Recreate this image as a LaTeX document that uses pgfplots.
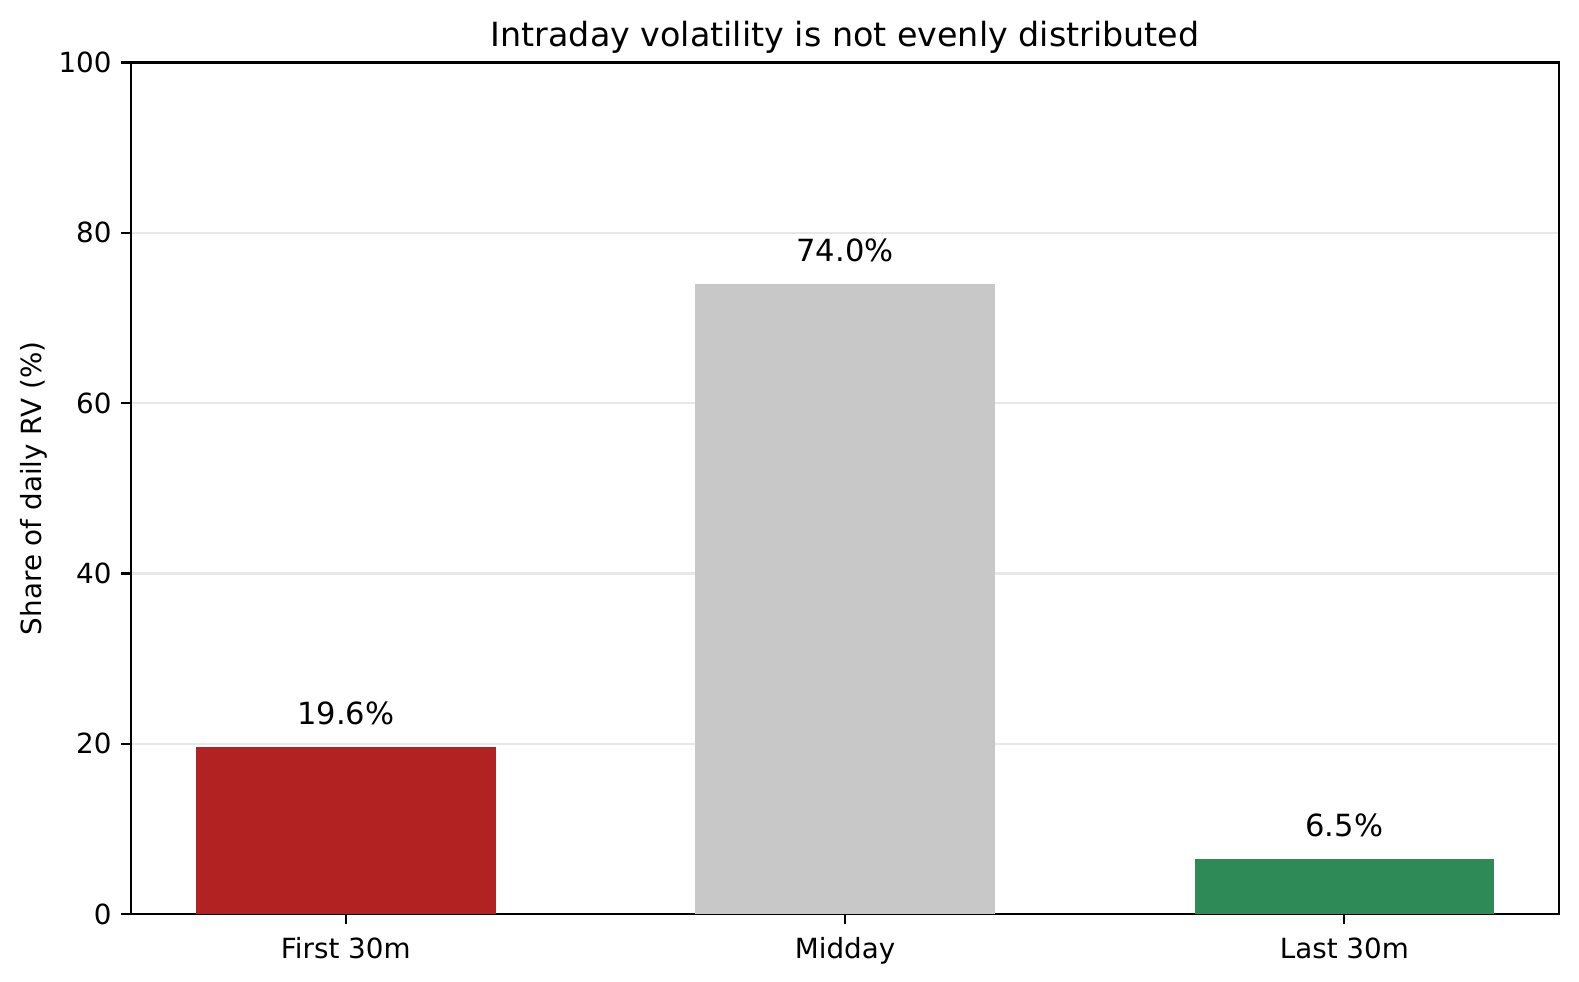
\documentclass[border=0pt]{standalone}
\usepackage{pgfplots}
\pgfplotsset{compat=1.18}
\usepackage{fontspec}
\setmainfont{DejaVu Sans}
\definecolor{barred}{HTML}{B22222}
\definecolor{bargray}{HTML}{C8C8C8}
\definecolor{bargreen}{HTML}{2E8B57}
\definecolor{gridc}{HTML}{E8E8E8}
\begin{document}
\begin{tikzpicture}
\begin{axis}[
  at={(0,0)}, anchor=south west,
  scale only axis,
  width=514.1pt, height=306.6pt,
  xmin=-0.43, xmax=2.43,
  ymin=0, ymax=100,
  xtick={0,1,2},
  xticklabels={First 30m, Midday, Last 30m},
  ytick={0,20,40,60,80,100},
  xtick pos=bottom, ytick pos=left,
  tick align=outside,
  major tick length=3.5pt,
  tick style={black, line width=0.8pt},
  axis line style={line width=0.8pt},
  ymajorgrids,
  grid style={gridc, line width=0.8pt},
  tick label style={font=\fontsize{10}{12}\selectfont},
  /pgf/number format/assume math mode=true,
  xticklabel style={yshift=-1.5pt},
  ylabel={Share of daily RV (\%)},
  every axis y label/.style={at={(axis description cs:0,0.5)}, rotate=90, anchor=center, yshift=35pt, font=\fontsize{10}{12}\selectfont},
  title={Intraday volatility is not evenly distributed},
  every axis title/.style={at={(0.5,1)}, anchor=center, yshift=9.2pt, font=\fontsize{12}{14}\selectfont},
  ybar, bar width=0.6, bar shift=0,
  nodes near coords={\pgfmathprintnumber[fixed,precision=1,fixed zerofill]{\pgfplotspointmeta}\%},
  every node near coord/.append style={font=\fontsize{11}{13}\selectfont, inner sep=0pt, anchor=base, yshift=8pt, black},
]
\addplot[fill=barred, draw=none] coordinates {(0,19.6)};
\addplot[fill=bargray, draw=none] coordinates {(1,74.0)};
\addplot[fill=bargreen, draw=none] coordinates {(2,6.5)};
\end{axis}
\pgfresetboundingbox
\path[use as bounding box] (-47.2pt,-24.4pt) rectangle (521.3pt,329.1pt);
\end{tikzpicture}
\end{document}
